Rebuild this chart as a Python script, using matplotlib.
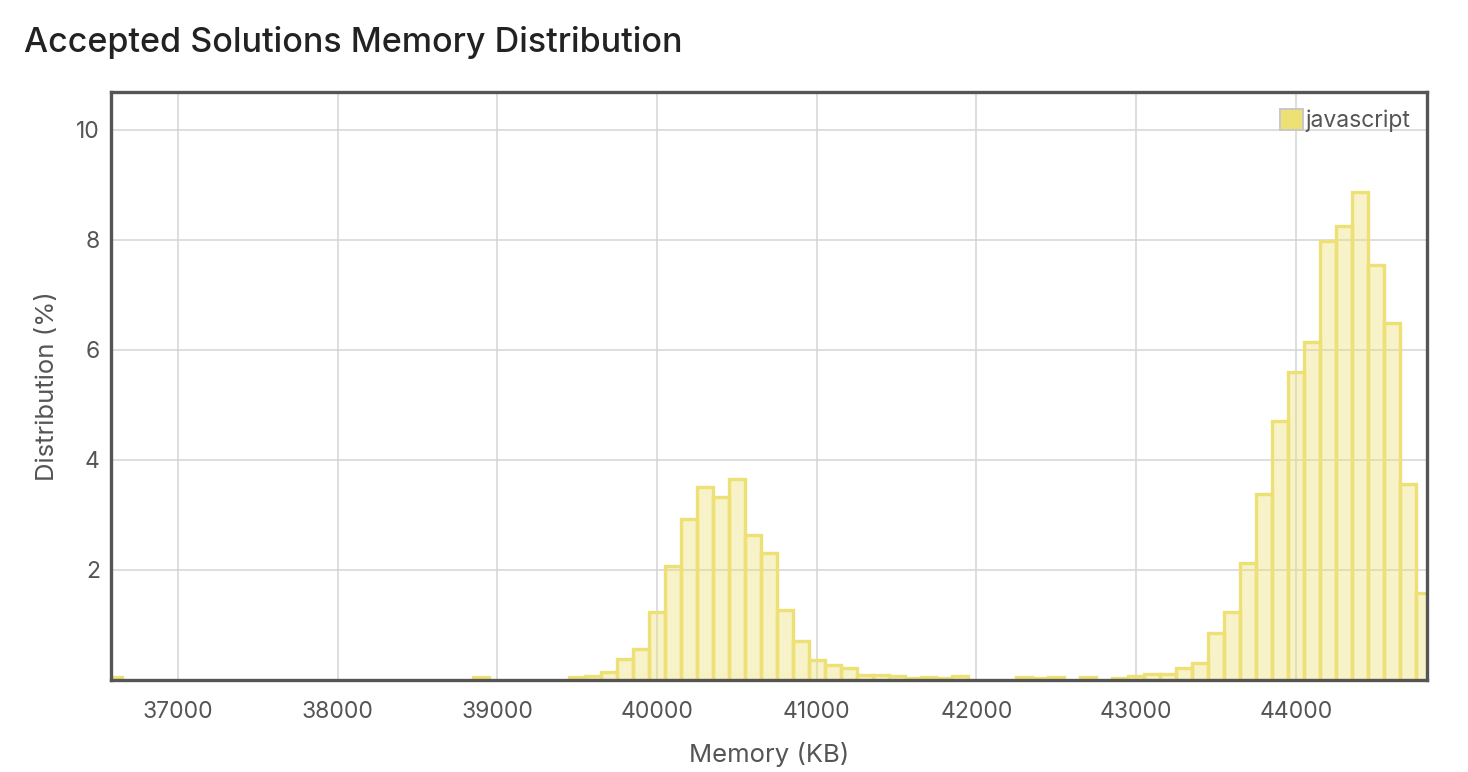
import matplotlib
matplotlib.use("Agg")
import matplotlib.pyplot as plt
from matplotlib.patches import Patch

plt.rcParams['font.family'] = ['Inter', 'DejaVu Sans']

# bin centres (KB) and share of accepted solutions (%)
memory_kb = [36600, 38900,
             39500, 39600, 39700, 39800, 39900,
             40000, 40100, 40200, 40300, 40400, 40500, 40600, 40700, 40800, 40900,
             41000, 41100, 41200, 41300, 41400, 41500, 41600, 41700, 41800, 41900,
             42300, 42400, 42500, 42700, 42900,
             43000, 43100, 43200, 43300, 43400, 43500, 43600, 43700, 43800, 43900,
             44000, 44100, 44200, 44300, 44400, 44500, 44600, 44700, 44800]
distribution = [0.05, 0.05,
                0.05, 0.08, 0.15, 0.38, 0.56,
                1.24, 2.07, 2.93, 3.51, 3.33, 3.66, 2.64, 2.31, 1.27, 0.71,
                0.36, 0.28, 0.21, 0.09, 0.09, 0.07, 0.04, 0.05, 0.04, 0.07,
                0.05, 0.04, 0.05, 0.05, 0.04,
                0.08, 0.10, 0.10, 0.22, 0.30, 0.85, 1.23, 2.13, 3.38, 4.71,
                5.60, 6.15, 7.99, 8.26, 8.88, 7.54, 6.49, 3.57, 1.59]
language = "javascript"

x_ticks = [37000, 38000, 39000, 40000, 41000, 42000, 43000, 44000]
y_ticks = [2, 4, 6, 8, 10]

yellow = "#EDE074"
frame = "#555555"
text_col = "#555555"

fig = plt.figure(figsize=(14.68, 7.72), dpi=100)
ax = fig.add_axes([111 / 1468, 1 - 680 / 772, (1427 - 111) / 1468, (680 - 92) / 772])

ax.bar(memory_kb, distribution, width=100, align='center',
       facecolor=matplotlib.colors.to_rgba(yellow, 0.4), edgecolor=yellow,
       linewidth=2.4, zorder=2)

ax.set_xlim(36580, 44822)
ax.set_ylim(0, 10.69)
ax.set_xticks(x_ticks)
ax.set_xticklabels([str(t) for t in x_ticks])
ax.set_yticks(y_ticks)
ax.tick_params(length=0, labelsize=16.5, labelcolor=text_col)
ax.tick_params(axis='x', pad=15)
ax.tick_params(axis='y', pad=8)
ax.grid(True, color="#d4d4d4", linewidth=1.1)
ax.set_axisbelow(True)
for s in ax.spines.values():
    s.set_color(frame)
    s.set_linewidth(2.4)

ax.set_xlabel("Memory (KB)", fontsize=18.5, color=text_col, labelpad=14)
ax.set_ylabel("Distribution (%)", fontsize=18.5, color=text_col, labelpad=12)

handle = Patch(facecolor=yellow, edgecolor="#c8c8c8", linewidth=1.4)
leg = ax.legend([handle], [language], loc='upper right', frameon=False,
                fontsize=16.5, handlelength=1.0, handleheight=1.0,
                handletextpad=0.1, borderaxespad=0.55, borderpad=0.2)
for t in leg.get_texts():
    t.set_color(text_col)

fig.text(24 / 1468, 1 - 52 / 772, "Accepted Solutions Memory Distribution",
         fontsize=24.5, fontweight='medium', color="#222222", va='baseline', ha='left')

fig.savefig("out.png", dpi=100)
